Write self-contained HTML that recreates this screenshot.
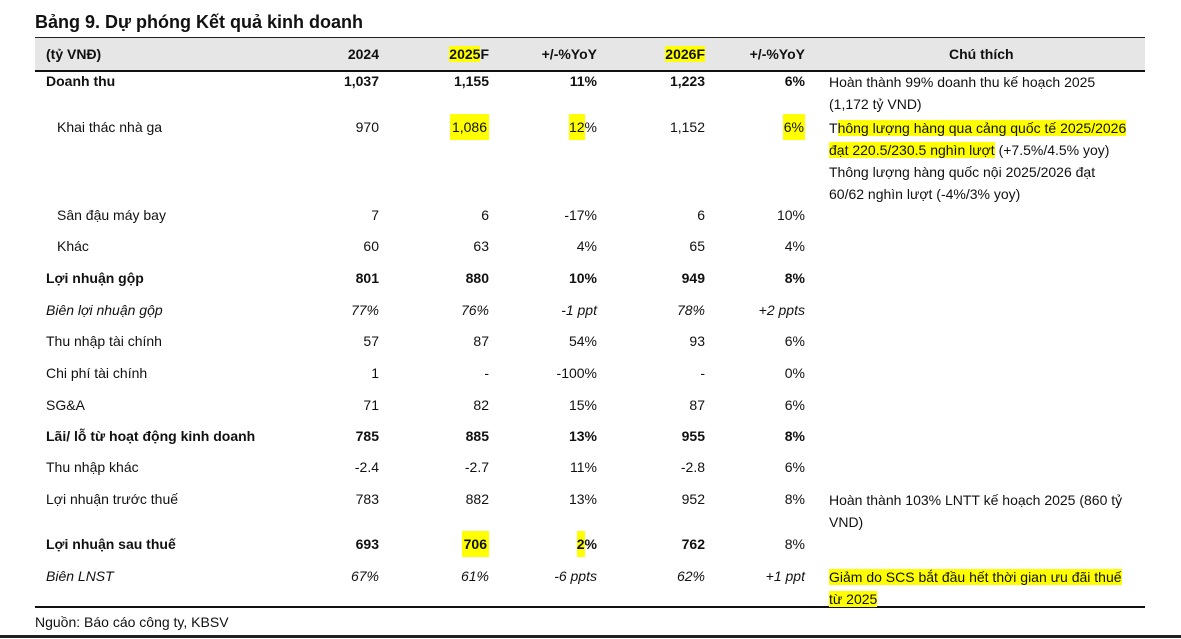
<!DOCTYPE html>
<html><head><meta charset="utf-8"><style>
body{margin:0;width:1181px;height:639px;background:#fff;position:relative;overflow:hidden;font-family:"Liberation Sans",sans-serif;color:#111;font-size:14px}
.a{position:absolute;white-space:nowrap;line-height:20px}
.r{text-align:right}
.b{font-weight:bold}
.i{font-style:italic}
.hl{background:#ffff00}
</style></head><body>
<div class="a b" style="left:35px;top:10px;font-size:18px;line-height:24px">Bảng 9. Dự phóng Kết quả kinh doanh</div>
<div style="position:absolute;left:35px;top:37px;width:1110px;height:32px;background:#e6e6e6;border-top:1px solid #222;border-bottom:2px solid #111"></div>
<div style="position:absolute;left:35px;top:606px;width:1110px;height:2px;background:#111"></div>
<div style="position:absolute;left:0;top:635px;width:1181px;height:3px;background:#222"></div>
<div class="a" style="left:35px;top:612px">Nguồn: Báo cáo công ty, KBSV</div>

<div class="a b" style="left:46px;top:44px">(tỷ VNĐ)</div>
<div class="a b r" style="right:802px;top:44px">2024</div>
<div class="a b r" style="right:692px;top:44px"><span class="hl">2025</span>F</div>
<div class="a b r" style="right:584px;top:44px">+/-%YoY</div>
<div class="a b r" style="right:476px;top:44px"><span class="hl">2026F</span></div>
<div class="a b r" style="right:376px;top:44px">+/-%YoY</div>
<div class="a b" style="left:949px;top:44px">Chú thích</div>

<div class="a b" style="left:46px;top:71px">Doanh thu</div>
<div class="a b r" style="right:802px;top:71px">1,037</div>
<div class="a b r" style="right:692px;top:71px">1,155</div>
<div class="a b r" style="right:584px;top:71px">11%</div>
<div class="a b r" style="right:476px;top:71px">1,223</div>
<div class="a b r" style="right:376px;top:71px">6%</div>
<div class="a" style="left:829px;top:71px;line-height:22px">Hoàn thành 99% doanh thu kế hoạch 2025<br>(1,172 tỷ VND)</div>

<div class="a" style="left:57px;top:117px">Khai thác nhà ga</div>
<div class="a r" style="right:802px;top:117px">970</div>
<div class="a r" style="right:692px;top:117px"><span class="hl" style="padding:5px 2px">1,086</span></div>
<div class="a r" style="right:584px;top:117px"><span class="hl" style="padding:5px 0">12</span>%</div>
<div class="a r" style="right:476px;top:117px">1,152</div>
<div class="a r" style="right:376px;top:117px"><span class="hl" style="padding:5px 1px">6%</span></div>
<div class="a" style="left:829px;top:117px;line-height:22px">T<span class="hl">hông lượng hàng qua cảng quốc tế 2025/2026</span><br><span class="hl">đạt 220.5/230.5 nghìn lượt</span> (+7.5%/4.5% yoy)<br>Thông lượng hàng quốc nội 2025/2026 đạt<br>60/62 nghìn lượt (-4%/3% yoy)</div>

<div class="a" style="left:57px;top:205px">Sân đậu máy bay</div>
<div class="a r" style="right:802px;top:205px">7</div>
<div class="a r" style="right:692px;top:205px">6</div>
<div class="a r" style="right:584px;top:205px">-17%</div>
<div class="a r" style="right:476px;top:205px">6</div>
<div class="a r" style="right:376px;top:205px">10%</div>

<div class="a" style="left:57px;top:236px">Khác</div>
<div class="a r" style="right:802px;top:236px">60</div>
<div class="a r" style="right:692px;top:236px">63</div>
<div class="a r" style="right:584px;top:236px">4%</div>
<div class="a r" style="right:476px;top:236px">65</div>
<div class="a r" style="right:376px;top:236px">4%</div>

<div class="a b" style="left:46px;top:268px">Lợi nhuận gộp</div>
<div class="a b r" style="right:802px;top:268px">801</div>
<div class="a b r" style="right:692px;top:268px">880</div>
<div class="a b r" style="right:584px;top:268px">10%</div>
<div class="a b r" style="right:476px;top:268px">949</div>
<div class="a b r" style="right:376px;top:268px">8%</div>

<div class="a i" style="left:46px;top:300px">Biên lợi nhuận gộp</div>
<div class="a i r" style="right:802px;top:300px">77%</div>
<div class="a i r" style="right:692px;top:300px">76%</div>
<div class="a i r" style="right:584px;top:300px">-1 ppt</div>
<div class="a i r" style="right:476px;top:300px">78%</div>
<div class="a i r" style="right:376px;top:300px">+2 ppts</div>

<div class="a" style="left:46px;top:331px">Thu nhập tài chính</div>
<div class="a r" style="right:802px;top:331px">57</div>
<div class="a r" style="right:692px;top:331px">87</div>
<div class="a r" style="right:584px;top:331px">54%</div>
<div class="a r" style="right:476px;top:331px">93</div>
<div class="a r" style="right:376px;top:331px">6%</div>

<div class="a" style="left:46px;top:363px">Chi phí tài chính</div>
<div class="a r" style="right:802px;top:363px">1</div>
<div class="a r" style="right:692px;top:363px">-</div>
<div class="a r" style="right:584px;top:363px">-100%</div>
<div class="a r" style="right:476px;top:363px">-</div>
<div class="a r" style="right:376px;top:363px">0%</div>

<div class="a" style="left:46px;top:395px">SG&amp;A</div>
<div class="a r" style="right:802px;top:395px">71</div>
<div class="a r" style="right:692px;top:395px">82</div>
<div class="a r" style="right:584px;top:395px">15%</div>
<div class="a r" style="right:476px;top:395px">87</div>
<div class="a r" style="right:376px;top:395px">6%</div>

<div class="a b" style="left:46px;top:426px">Lãi/ lỗ từ hoạt động kinh doanh</div>
<div class="a b r" style="right:802px;top:426px">785</div>
<div class="a b r" style="right:692px;top:426px">885</div>
<div class="a b r" style="right:584px;top:426px">13%</div>
<div class="a b r" style="right:476px;top:426px">955</div>
<div class="a b r" style="right:376px;top:426px">8%</div>

<div class="a" style="left:46px;top:457px">Thu nhập khác</div>
<div class="a r" style="right:802px;top:457px">-2.4</div>
<div class="a r" style="right:692px;top:457px">-2.7</div>
<div class="a r" style="right:584px;top:457px">11%</div>
<div class="a r" style="right:476px;top:457px">-2.8</div>
<div class="a r" style="right:376px;top:457px">6%</div>

<div class="a" style="left:46px;top:489px">Lợi nhuận trước thuế</div>
<div class="a r" style="right:802px;top:489px">783</div>
<div class="a r" style="right:692px;top:489px">882</div>
<div class="a r" style="right:584px;top:489px">13%</div>
<div class="a r" style="right:476px;top:489px">952</div>
<div class="a r" style="right:376px;top:489px">8%</div>
<div class="a" style="left:829px;top:489px;line-height:22px">Hoàn thành 103% LNTT kế hoạch 2025 (860 tỷ<br>VND)</div>

<div class="a b" style="left:46px;top:534px">Lợi nhuận sau thuế</div>
<div class="a b r" style="right:802px;top:534px">693</div>
<div class="a b r" style="right:692px;top:534px"><span class="hl" style="padding:5px 2px">706</span></div>
<div class="a b r" style="right:584px;top:534px"><span class="hl" style="padding:5px 0">2</span>%</div>
<div class="a b r" style="right:476px;top:534px">762</div>
<div class="a r" style="right:376px;top:534px">8%</div>

<div class="a i" style="left:46px;top:566px">Biên LNST</div>
<div class="a i r" style="right:802px;top:566px">67%</div>
<div class="a i r" style="right:692px;top:566px">61%</div>
<div class="a i r" style="right:584px;top:566px">-6 ppts</div>
<div class="a i r" style="right:476px;top:566px">62%</div>
<div class="a i r" style="right:376px;top:566px">+1 ppt</div>
<div class="a" style="left:829px;top:566px;line-height:22px"><span class="hl">Giảm do SCS bắt đầu hết thời gian ưu đãi thuế</span><br><span class="hl">từ 2025</span></div>
</body></html>
